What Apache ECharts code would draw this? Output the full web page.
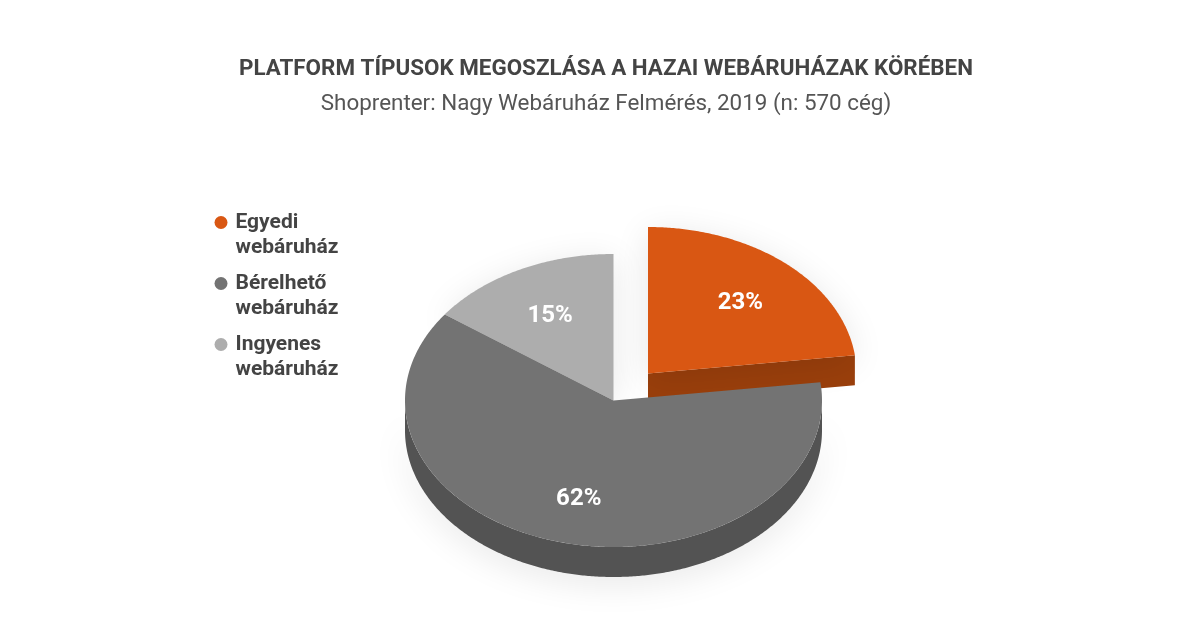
<!DOCTYPE html>
<html>
<head>
<meta charset="utf-8">
<style>html,body{margin:0;padding:0;background:#fff}#c{width:1200px;height:628px}</style>
<script src="https://cdn.jsdelivr.net/npm/echarts@6/dist/echarts.min.js"></script>
</head>
<body>
<div id="c"></div>
<script>
const categories = ['Egyedi webáruház', 'Bérelhető webáruház', 'Ingyenes webáruház'];
const shares = [23, 62, 15];
const topColors = ['#D95713', '#737373', '#ADADAD'];
const sideColors = ['#9A3F0C', '#535353', '#8A8A8A'];
const titleText = 'PLATFORM TÍPUSOK MEGOSZLÁSA A HAZAI WEBÁRUHÁZAK KÖRÉBEN';
const subtitleText = 'Shoprenter: Nagy Webáruház Felmérés, 2019 (n: 570 cég)';

const cx = 613.5, cy = 400.5, rx = 208.5, ry = 146.5, depth = 30;
const offsets = [[34.5, -27], [0, 0], [0, 0]];
const zOrder = [1, 3, 2];
const labelRadius = 0.67;
const labelDrop = 3;

const total = shares.reduce((a, b) => a + b, 0);
const starts = shares.map((_, i) => shares.slice(0, i).reduce((a, b) => a + b, 0));

function pt(deg, ox, oy, dy, k) {
  const a = deg * Math.PI / 180;
  return [cx + ox + k * rx * Math.sin(a), cy + oy + dy - k * ry * Math.cos(a)];
}
function arc(from, to, ox, oy, dy) {
  const pts = [];
  const n = Math.max(2, Math.ceil(Math.abs(to - from) * 2));
  for (let i = 0; i <= n; i++) pts.push(pt(from + (to - from) * i / n, ox, oy, dy, 1));
  return pts;
}
const shadow = { shadowBlur: 34, shadowColor: 'rgba(0,0,0,0.10)', shadowOffsetY: 6 };

function makeRenderer(idx) {
  return function (params, api) {
    const v = api.value(0);
    const a0 = starts[idx] / total * 360;
    const a1 = a0 + v / total * 360;
    const [ox, oy] = offsets[idx];
    const children = [];
    const frontFrom = Math.max(a0, 90), frontTo = Math.min(a1, 270);
    if (frontTo > frontFrom) {
      children.push({
        type: 'polygon',
        shape: { points: arc(frontFrom, frontTo, ox, oy, 0).concat(arc(frontTo, frontFrom, ox, oy, depth)) },
        style: Object.assign({ fill: sideColors[idx] }, shadow)
      });
    }
    if (a1 > 0 && a1 < 180) {
      const e = pt(a1, ox, oy, 0, 1), c = pt(a1, ox, oy, 0, 0);
      children.push({
        type: 'polygon',
        shape: { points: [c, e, [e[0], e[1] + depth], [c[0], c[1] + depth]] },
        style: { fill: sideColors[idx] }
      });
    }
    const topStyle = { fill: topColors[idx] };
    if (frontTo <= frontFrom) Object.assign(topStyle, shadow);
    children.push({
      type: 'polygon',
      shape: { points: [pt(0, ox, oy, 0, 0)].concat(arc(a0, a1, ox, oy, 0)) },
      style: topStyle
    });
    const lp = pt((a0 + a1) / 2, ox, oy, 0, labelRadius);
    children.push({
      type: 'text',
      style: {
        x: lp[0], y: lp[1] + labelDrop, text: v + '%', fill: '#fff',
        font: '700 24px Roboto', align: 'center', verticalAlign: 'middle'
      }
    });
    return { type: 'group', children };
  };
}

const chart = echarts.init(document.getElementById('c'), null, { renderer: 'canvas' });
chart.setOption({
  backgroundColor: '#fff',
  animation: false,
  title: [
    { text: titleText, left: 601, top: 53, textAlign: 'center',
      textStyle: { fontFamily: 'Roboto', fontWeight: 700, fontSize: 22.4, color: '#444444' } },
    { text: subtitleText, left: 601, top: 88, textAlign: 'center',
      textStyle: { fontFamily: 'Roboto', fontWeight: 400, fontSize: 22.4, color: '#555555' } }
  ],
  legend: {
    data: categories,
    orient: 'vertical',
    left: 214.5, top: 183,
    itemWidth: 13, itemHeight: 13,
    itemGap: -18,
    icon: 'circle',
    selectedMode: false,
    padding: 0,
    align: 'left',
    formatter: n => ' \n' + n.replace(' ', '\n'),
    textStyle: { fontFamily: 'Roboto', fontWeight: 700, fontSize: 21, lineHeight: 25, color: '#444444', padding: [4, 0, 0, 3] }
  },
  series: categories.map((name, i) => ({
    type: 'custom',
    name,
    coordinateSystem: 'none',
    z: zOrder[i],
    silent: true,
    itemStyle: { color: topColors[i] },
    renderItem: makeRenderer(i),
    data: [[shares[i]]]
  }))
});
</script>
</body>
</html>
